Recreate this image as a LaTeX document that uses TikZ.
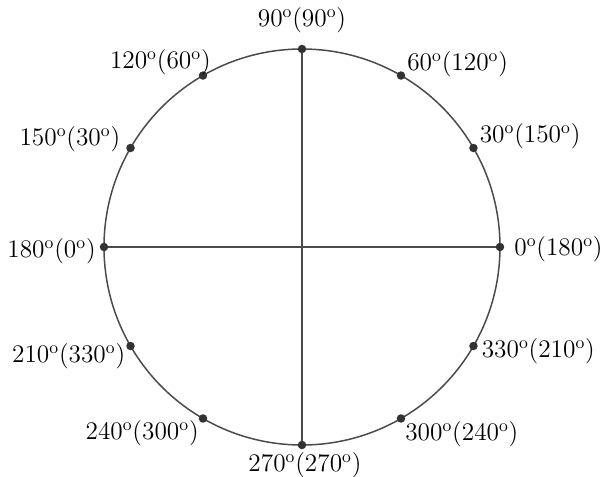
\documentclass[tikz,border=0pt]{standalone}
\usepackage{tikz}
\usetikzlibrary{positioning}
\definecolor{rimgray}{RGB}{75,75,75}
\definecolor{dotgray}{RGB}{50,50,50}
\newcommand{\dg}{\textsuperscript{o}}

\begin{document}
\begin{tikzpicture}[font=\Large,
    rim/.style={draw=rimgray,line width=0.85pt},
    dot/.style={circle,fill=dotgray,inner sep=0pt,minimum size=0.17cm},
    lbl/.style={inner sep=0pt}]
  \useasboundingbox (-6.04,-4.58) rectangle (6.02,4.94);
  \coordinate (O) at (0,0);
  \coordinate (p0) at (0:3.96);
  \coordinate (p30) at (30:3.96);
  \coordinate (p60) at (60:3.96);
  \coordinate (p90) at (90:3.96);
  \coordinate (p120) at (120:3.96);
  \coordinate (p150) at (150:3.96);
  \coordinate (p180) at (180:3.96);
  \coordinate (p210) at (210:3.96);
  \coordinate (p240) at (240:3.96);
  \coordinate (p270) at (270:3.96);
  \coordinate (p300) at (300:3.96);
  \coordinate (p330) at (330:3.96);
  \draw[rim] (O) circle (3.96);
  \draw[rim] (p180) -- (p0);
  \draw[rim] (p90) -- (p270);
  % points on the circle
  \foreach \a in {0,30,...,330}
    \node[dot] (d\a) at (p\a) {};
  % labels
  \node[lbl,anchor=west] (l0) at ([shift={(0.28,-0.04)}]p0) {0\dg(180\dg)};
  \node[lbl,anchor=west] (l30) at ([shift={(0.12,0.24)}]p30) {30\dg(150\dg)};
  \node[lbl,anchor=west] (l60) at ([shift={(0.12,0.22)}]p60) {60\dg(120\dg)};
  \node[lbl] (l90) at ([shift={(0,0.58)}]p90) {90\dg(90\dg)};
  \node[lbl,anchor=east] (l120) at ([shift={(0.16,0.26)}]p120) {120\dg(60\dg)};
  \node[lbl,anchor=east] (l150) at ([shift={(-0.2,0.18)}]p150) {150\dg(30\dg)};
  \node[lbl,anchor=east] (l180) at ([shift={(-0.16,-0.08)}]p180) {180\dg(0\dg)};
  \node[lbl,anchor=east] (l210) at ([shift={(-0.1,-0.2)}]p210) {210\dg(330\dg)};
  \node[lbl,anchor=east] (l240) at ([shift={(-0.08,-0.3)}]p240) {240\dg(300\dg)};
  \node[lbl] (l270) at ([shift={(0.06,-0.4)}]p270) {270\dg(270\dg)};
  \node[lbl,anchor=west] (l300) at ([shift={(0.08,-0.32)}]p300) {300\dg(240\dg)};
  \node[lbl,anchor=west] (l330) at ([shift={(0.16,-0.1)}]p330) {330\dg(210\dg)};
\end{tikzpicture}
\end{document}
